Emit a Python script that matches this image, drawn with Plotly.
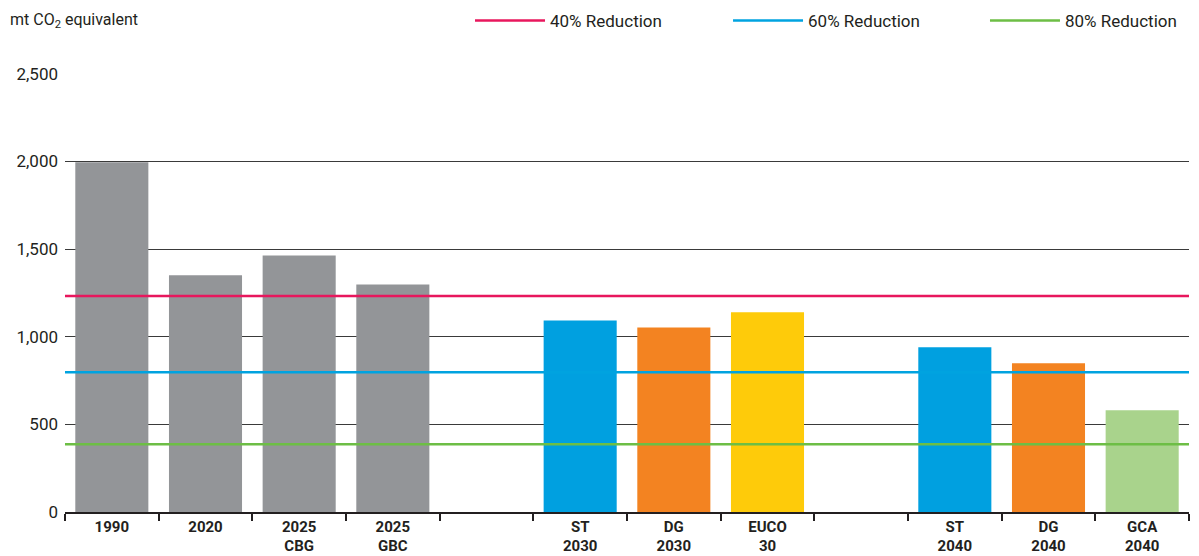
import plotly.graph_objects as go

# Emission scenarios (mt CO2 equivalent)
categories = ["1990", "2020", "2025<br>CBG", "2025<br>GBC", " ",
              "ST<br>2030", "DG<br>2030", "EUCO<br>30", "  ",
              "ST<br>2040", "DG<br>2040", "GCA<br>2040"]
emissions = [1995, 1350, 1463, 1298, None, 1093, 1053, 1139, None, 940, 849, 581]
bar_colors = ["#939598", "#939598", "#939598", "#939598", "#ffffff",
              "#00A0E0", "#F38321", "#FECB0A", "#ffffff",
              "#00A0E0", "#F38321", "#A9D38C"]

# Reduction targets relative to 1990
target_names = ["40% Reduction", "60% Reduction", "80% Reduction"]
target_values = [1232, 797, 387]
target_colors = ["#E8175D", "#00A3E0", "#6DBE45"]

FONT = "Roboto, Liberation Sans, sans-serif"

fig = go.Figure()
fig.add_trace(go.Bar(
    x=categories, y=emissions, marker=dict(color=bar_colors, line_width=0),
    showlegend=False, hoverinfo="x+y",
))

# each target line gets its own single-entry legend so the keys can be spaced freely
legend_ids = ["legend", "legend2", "legend3"]
legend_x = [0.392, 0.6072, 0.8215]
for name, val, col, lid in zip(target_names, target_values, target_colors, legend_ids):
    fig.add_trace(go.Scatter(
        x=[0, 1], y=[val, val], xaxis="x2", mode="lines",
        line=dict(color=col, width=2.5), name=name, legend=lid,
    ))

legend_style = dict(
    orientation="h", xref="container", yref="container", xanchor="left",
    y=0.9622, yanchor="middle",
    font=dict(size=17, color="#231F20"), itemwidth=70,
    bgcolor="rgba(0,0,0,0)",
)

fig.update_layout(
    width=1199, height=556,
    margin=dict(l=65, r=10, t=73, b=44),
    paper_bgcolor="white", plot_bgcolor="white",
    font=dict(family=FONT, color="#231F20", size=16),
    bargap=0.22,
    xaxis=dict(
        type="category", categoryorder="array", categoryarray=categories,
        tickson="boundaries", ticks="outside", ticklen=7, tickcolor="#231F20",
        tickwidth=1.5, showline=True, linecolor="#231F20", linewidth=1.5,
        showgrid=False, tickfont=dict(size=15, family=FONT, weight="bold",
                                      color="#231F20"),
        range=[-0.5, 11.5], automargin=False,
    ),
    xaxis2=dict(overlaying="x", range=[0, 1], visible=False),
    yaxis=dict(
        range=[0, 2504], tickvals=[0, 500, 1000, 1500, 2000, 2500],
        tickformat=",", showgrid=True,
        gridcolor="#3a3a3a", gridwidth=1, zeroline=False,
        tickfont=dict(size=17, color="#231F20"), ticks="",
        ticklabelstandoff=6, automargin=False,
    ),
    legend=dict(x=legend_x[0], **legend_style),
    legend2=dict(x=legend_x[1], **legend_style),
    legend3=dict(x=legend_x[2], **legend_style),
    annotations=[dict(
        text="mt CO<sub>2</sub> equivalent", xref="paper", yref="paper",
        x=-0.051, y=1.1185, xanchor="left", yanchor="middle", showarrow=False,
        font=dict(size=16, color="#231F20"),
    )],
)

fig.write_html("out.html")
